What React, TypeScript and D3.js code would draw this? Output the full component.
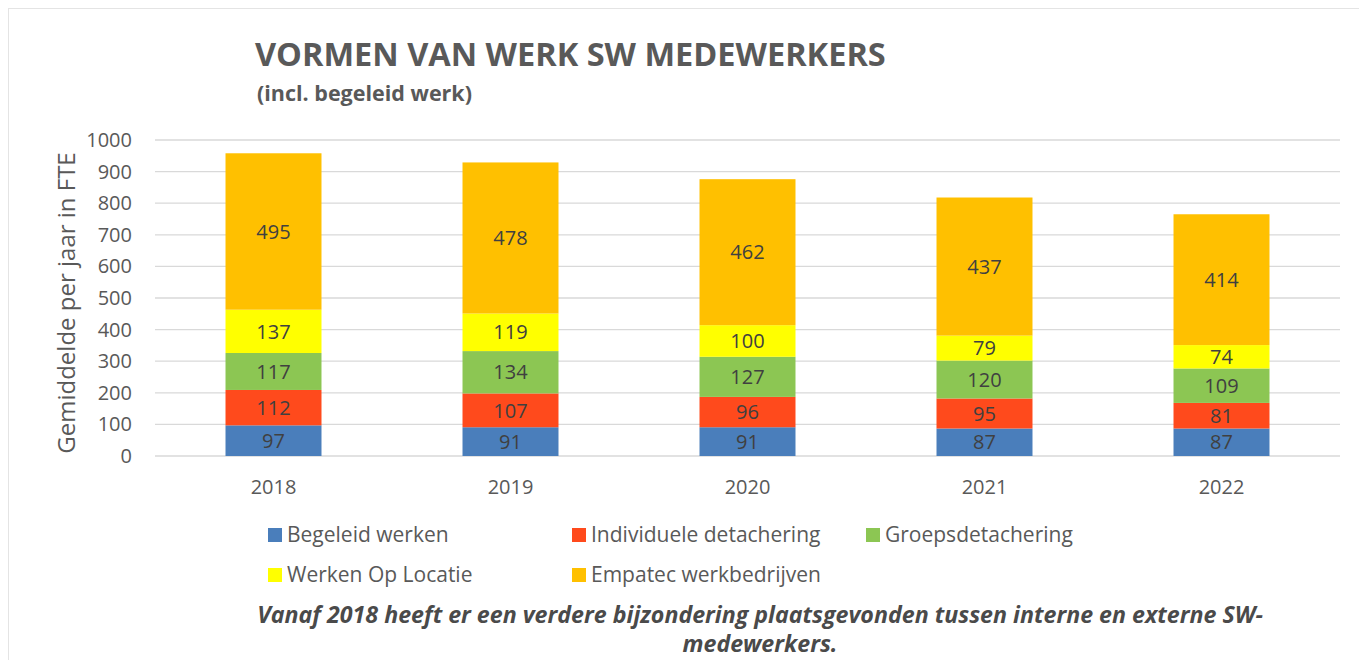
import { useEffect, useRef } from "react"
import * as d3 from "d3"

const years = ["2018", "2019", "2020", "2021", "2022"]
const seriesNames = [
  "Begeleid werken",
  "Individuele detachering",
  "Groepsdetachering",
  "Werken Op Locatie",
  "Empatec werkbedrijven",
]
const begeleid = [97, 91, 91, 87, 87]
const individueel = [112, 107, 96, 95, 81]
const groeps = [117, 134, 127, 120, 109]
const locatie = [137, 119, 100, 79, 74]
const empatec = [495, 478, 462, 437, 414]
const yTicks = [0, 100, 200, 300, 400, 500, 600, 700, 800, 900, 1000]
const colors = ["#4a7ebb", "#ff4a1c", "#8cc653", "#ffff00", "#ffc000"]

const W = 1359
const H = 660
const FONT = "'Open Sans', 'Liberation Sans', sans-serif"

export default function App() {
  const ref = useRef<SVGSVGElement | null>(null)

  useEffect(() => {
    const svg = d3.select(ref.current)
    svg.selectAll("*").remove()

    const margin = { top: 140, left: 155, right: 19, bottom: 204 }
    const innerW = W - margin.left - margin.right
    const innerH = H - margin.top - margin.bottom

    const rows = years.map((yr, i) => ({
      year: yr,
      s0: begeleid[i],
      s1: individueel[i],
      s2: groeps[i],
      s3: locatie[i],
      s4: empatec[i],
    }))
    const keys = ["s0", "s1", "s2", "s3", "s4"]
    const stacked = d3.stack<any>().keys(keys)(rows)

    const x = d3.scaleBand().domain(years).range([0, innerW]).paddingInner(0.595).paddingOuter(0.2975)
    const y = d3.scaleLinear().domain([0, 1000]).range([innerH, 0])

    // frame
    svg.append("rect")
      .attr("x", 8.5).attr("y", 8.5)
      .attr("width", W - 8).attr("height", H)
      .attr("fill", "none").attr("stroke", "#e4e4e4")

    svg.append("text")
      .attr("x", 255).attr("y", 66)
      .attr("font-family", FONT).attr("font-weight", 700)
      .attr("font-size", 32.5).attr("fill", "#595959")
      .text("VORMEN VAN WERK SW MEDEWERKERS")

    svg.append("text")
      .attr("x", 257).attr("y", 101)
      .attr("font-family", FONT).attr("font-weight", 700)
      .attr("font-size", 21.5).attr("fill", "#595959")
      .text("(incl. begeleid werk)")

    const g = svg.append("g").attr("transform", `translate(${margin.left},${margin.top})`)

    g.append("g")
      .selectAll("line")
      .data(yTicks)
      .join("line")
      .attr("x1", 0).attr("x2", innerW)
      .attr("y1", d => y(d)).attr("y2", d => y(d))
      .attr("stroke", "#d9d9d9").attr("stroke-width", 1.3)

    g.append("g")
      .selectAll("text")
      .data(yTicks)
      .join("text")
      .attr("x", -23).attr("y", d => y(d))
      .attr("dy", "0.35em").attr("text-anchor", "end")
      .attr("font-family", FONT).attr("font-size", 20).attr("fill", "#595959")
      .text(d => d)

    g.append("text")
      .attr("transform", `translate(${-80},${innerH / 2 + 5}) rotate(-90)`)
      .attr("text-anchor", "middle")
      .attr("font-family", FONT).attr("font-size", 24).attr("fill", "#595959")
      .text("Gemiddelde per jaar in FTE")

    g.append("g")
      .selectAll("text")
      .data(years)
      .join("text")
      .attr("x", d => (x(d) ?? 0) + x.bandwidth() / 2)
      .attr("y", innerH + 38)
      .attr("text-anchor", "middle")
      .attr("font-family", FONT).attr("font-size", 20).attr("fill", "#595959")
      .text(d => d)

    stacked.forEach((layer, li) => {
      const lg = g.append("g")
      lg.selectAll("rect")
        .data(layer)
        .join("rect")
        .attr("x", d => x(d.data.year) ?? 0)
        .attr("width", x.bandwidth())
        .attr("y", d => y(d[1]))
        .attr("height", d => y(d[0]) - y(d[1]))
        .attr("fill", colors[li])
      lg.selectAll("text")
        .data(layer)
        .join("text")
        .attr("x", d => (x(d.data.year) ?? 0) + x.bandwidth() / 2)
        .attr("y", d => (y(d[0]) + y(d[1])) / 2)
        .attr("dy", "0.36em")
        .attr("text-anchor", "middle")
        .attr("font-family", FONT).attr("font-size", 20).attr("fill", "#404040")
        .text(d => d[1] - d[0])
    })

    // legend
    const legendPos = [
      [268, 535], [572, 535], [866, 535],
      [268, 575], [572, 575],
    ]
    const lg = svg.append("g")
    seriesNames.forEach((name, i) => {
      const [lx, ly] = legendPos[i]
      lg.append("rect")
        .attr("x", lx).attr("y", ly - 7)
        .attr("width", 14).attr("height", 14)
        .attr("fill", colors[i])
      lg.append("text")
        .attr("x", lx + 19).attr("y", ly)
        .attr("dy", "0.35em")
        .attr("font-family", FONT).attr("font-size", 21).attr("fill", "#595959")
        .text(name)
    })

    const foot = svg.append("text")
      .attr("text-anchor", "middle")
      .attr("font-family", FONT).attr("font-weight", 700).attr("font-style", "italic")
      .attr("font-size", 23.2).attr("fill", "#4a4a4a")
    foot.append("tspan").attr("x", 760).attr("y", 623)
      .text("Vanaf 2018 heeft er een verdere bijzondering plaatsgevonden tussen interne en externe SW-")
    foot.append("tspan").attr("x", 760).attr("y", 652)
      .text("medewerkers.")
  }, [])

  return (
    <svg
      ref={ref}
      width={W}
      height={H}
      style={{ display: "block", position: "absolute", left: 0, top: 0, background: "#fff" }}
    />
  )
}
